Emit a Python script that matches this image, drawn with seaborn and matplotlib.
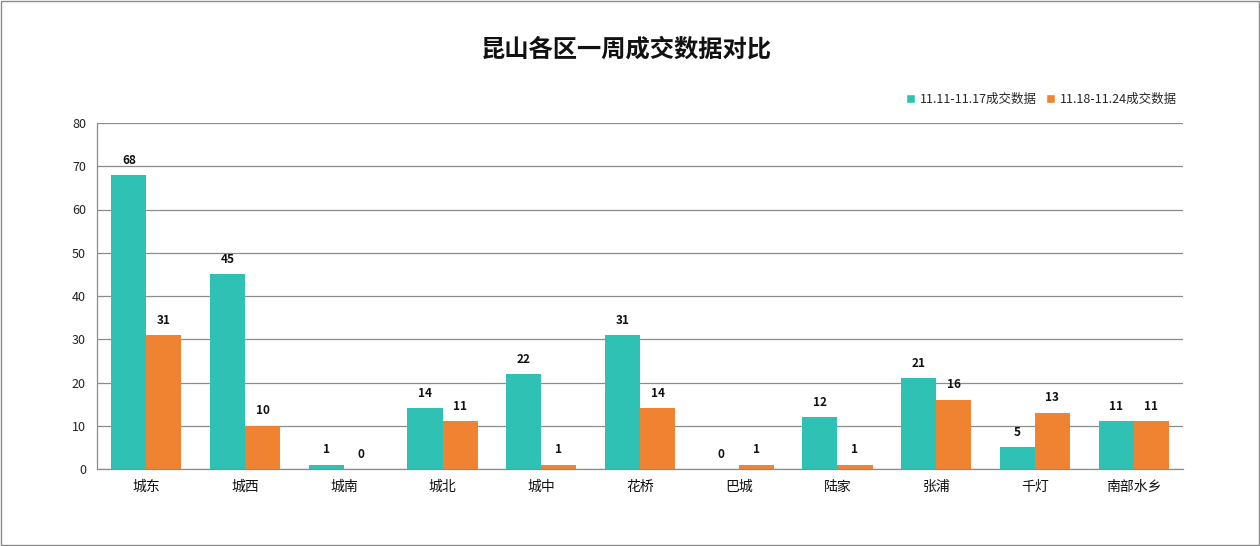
import matplotlib
matplotlib.use("Agg")
import matplotlib.pyplot as plt
import seaborn as sns
import pandas as pd
from matplotlib.patches import Rectangle

categories = ["城东", "城西", "城南", "城北", "城中", "花桥", "巴城", "陆家", "张浦", "千灯", "南部水乡"]
series_names = ["11.11-11.17成交数据", "11.18-11.24成交数据"]
week1 = [68, 45, 1, 14, 22, 31, 0, 12, 21, 5, 11]
week2 = [31, 10, 0, 11, 1, 14, 1, 1, 16, 13, 11]
yticks = [0, 10, 20, 30, 40, 50, 60, 70, 80]

colors = ["#2EC1B4", "#EF8332"]

sns.set_theme(style="white")
plt.rcParams['font.family'] = ['Noto Sans CJK SC', 'DejaVu Sans']

df = pd.DataFrame({
    "区域": categories * 2,
    "成交": week1 + week2,
    "周": [series_names[0]] * len(categories) + [series_names[1]] * len(categories),
})

fig = plt.figure(figsize=(12.6, 5.46), dpi=100)
ax = fig.add_axes([97 / 1260, 1 - 469 / 546, (1183 - 97) / 1260, (469 - 123) / 546])

sns.barplot(data=df, x="区域", y="成交", hue="周", palette=colors, width=0.71,
            ax=ax, legend=False, saturation=1, errorbar=None, linewidth=0, edgecolor="none")

ax.set_ylim(0, 80)
ax.set_xlim(-0.5, len(categories) - 0.5)
ax.set_yticks(yticks)
ax.set_yticklabels([str(t) for t in yticks], fontsize=9, color="#222222")
ax.tick_params(axis="x", labelsize=10, length=0, pad=8, colors="#111111")
ax.tick_params(axis="y", length=0, pad=8)
ax.set_xlabel("")
ax.set_ylabel("")
ax.yaxis.grid(True, color="#8c8c8c", linewidth=0.9)
ax.set_axisbelow(True)
for s in ["top", "right"]:
    ax.spines[s].set_visible(False)
for s in ["left", "bottom"]:
    ax.spines[s].set_color("#8c8c8c")
    ax.spines[s].set_linewidth(0.9)

for cont in ax.containers:
    ax.bar_label(cont, labels=[f"{int(v)}" for v in cont.datavalues], padding=6,
                 fontsize=8.5, fontweight="bold", color="#111111")

fig.text(626 / 1260, 1 - 50 / 546, "昆山各区一周成交数据对比", ha="center", va="center",
         fontsize=17.5, fontweight="bold", color="#111111")

handles = [Rectangle((0, 0), 1, 1, facecolor=c) for c in colors]
fig.legend(handles, series_names, loc="center right", bbox_to_anchor=(1188 / 1260, 1 - 99 / 546),
           ncol=2, frameon=False, fontsize=9, handlelength=0.7, handleheight=0.7,
           handletextpad=0.4, columnspacing=0.7)

fig.add_artist(Rectangle((0.0008, 0.0015), 0.9984, 0.997, transform=fig.transFigure,
                         fill=False, edgecolor="#8c8c8c", linewidth=1))

fig.savefig("out.png", dpi=100, facecolor="white")
